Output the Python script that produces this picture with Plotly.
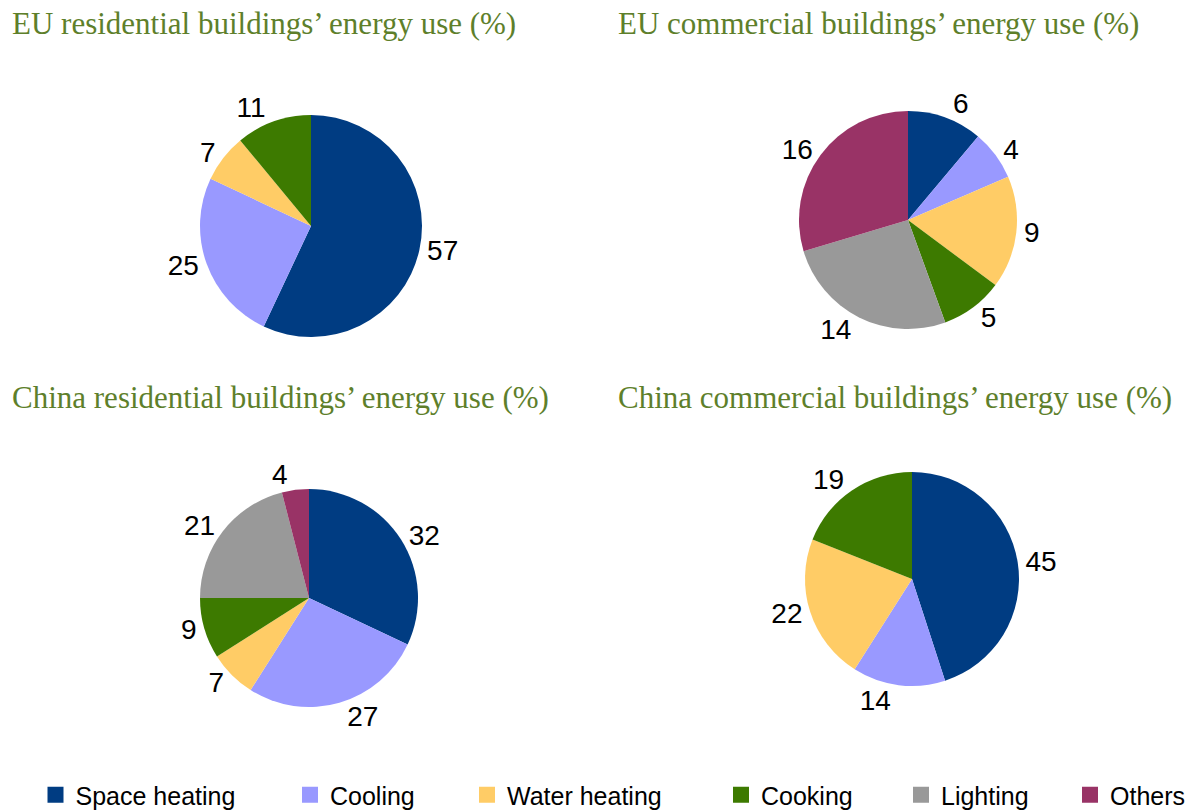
import plotly.graph_objects as go

categories = ["Space heating", "Cooling", "Water heating", "Cooking", "Lighting", "Others"]
colors = ["#003C82", "#9999FF", "#FFCC66", "#3D7A00", "#999999", "#993366"]

eu_res_labels = ["Space heating", "Cooling", "Water heating", "Cooking"]
eu_res_values = [57, 25, 7, 11]

eu_com_labels = ["Space heating", "Cooling", "Water heating", "Cooking", "Lighting", "Others"]
eu_com_values = [6, 4, 9, 5, 14, 16]

cn_res_labels = ["Space heating", "Cooling", "Water heating", "Cooking", "Lighting", "Others"]
cn_res_values = [32, 27, 7, 9, 21, 4]

cn_com_labels = ["Space heating", "Cooling", "Water heating", "Cooking"]
cn_com_values = [45, 14, 22, 19]

titles = ["EU residential buildings’ energy use (%)",
          "EU commercial buildings’ energy use (%)",
          "China residential buildings’ energy use (%)",
          "China commercial buildings’ energy use (%)"]

W, H = 1186, 812
color_map = dict(zip(categories, colors))

def px(x):
    return x / W

def py(y):
    return 1 - y / H

def dom(cx, cy, r):
    return dict(x=[px(cx - r), px(cx + r)], y=[py(cy + r), py(cy - r)])

panels = [
    (eu_res_labels, eu_res_values, dom(311, 226, 111)),
    (eu_com_labels, eu_com_values, dom(908, 220, 109)),
    (cn_res_labels, cn_res_values, dom(309, 598, 109)),
    (cn_com_labels, cn_com_values, dom(912, 579, 107)),
]

fig = go.Figure()
for i, (labs, vals, d) in enumerate(panels):
    fig.add_trace(go.Pie(
        labels=labs, values=vals, domain=d, sort=False, direction="clockwise",
        rotation=0, textinfo="value", textposition="outside",
        marker=dict(colors=[color_map[l] for l in labs]),
        outsidetextfont=dict(family="Liberation Sans, Arial", size=28, color="black"),
        hoverinfo="label+value", automargin=False,
        showlegend=False,
    ))

# legend entries, one legend per category so spacing matches
legend_centers = [55.5, 310, 487, 741, 921, 1090]
layout_legends = {}
for k, (cat, col, cx) in enumerate(zip(categories, colors, legend_centers)):
    key = "legend" if k == 0 else f"legend{k + 1}"
    fig.add_trace(go.Scatter(
        x=[None], y=[None], mode="markers", name=cat,
        marker=dict(symbol="square", size=16, color=col),
        legend=key, showlegend=True, hoverinfo="skip",
    ))
    layout_legends[key] = dict(
        orientation="h", x=px(cx - 20), y=py(795), xanchor="left", yanchor="middle",
        font=dict(family="Liberation Sans, Arial", size=25, color="black"),
        bgcolor="rgba(0,0,0,0)", itemclick=False, itemdoubleclick=False,
    )

title_pos = [(10, 24), (616, 24), (10, 397), (616, 397)]
for t, (x, y) in zip(titles, title_pos):
    fig.add_annotation(text=t, xref="paper", yref="paper", x=px(x), y=py(y),
                       xanchor="left", yanchor="middle", showarrow=False,
                       font=dict(family="Liberation Serif, Times New Roman, serif", size=31, color="#5E7F2B"))

fig.update_layout(
    width=W, height=H, margin=dict(l=0, r=0, t=0, b=0, autoexpand=False),
    paper_bgcolor="white", plot_bgcolor="rgba(0,0,0,0)",
    xaxis=dict(visible=False), yaxis=dict(visible=False),
    **layout_legends,
)
fig.write_html("out.html", config={"displayModeBar": False},
               post_script="document.body.style.margin='0';document.body.style.overflow='hidden';")
